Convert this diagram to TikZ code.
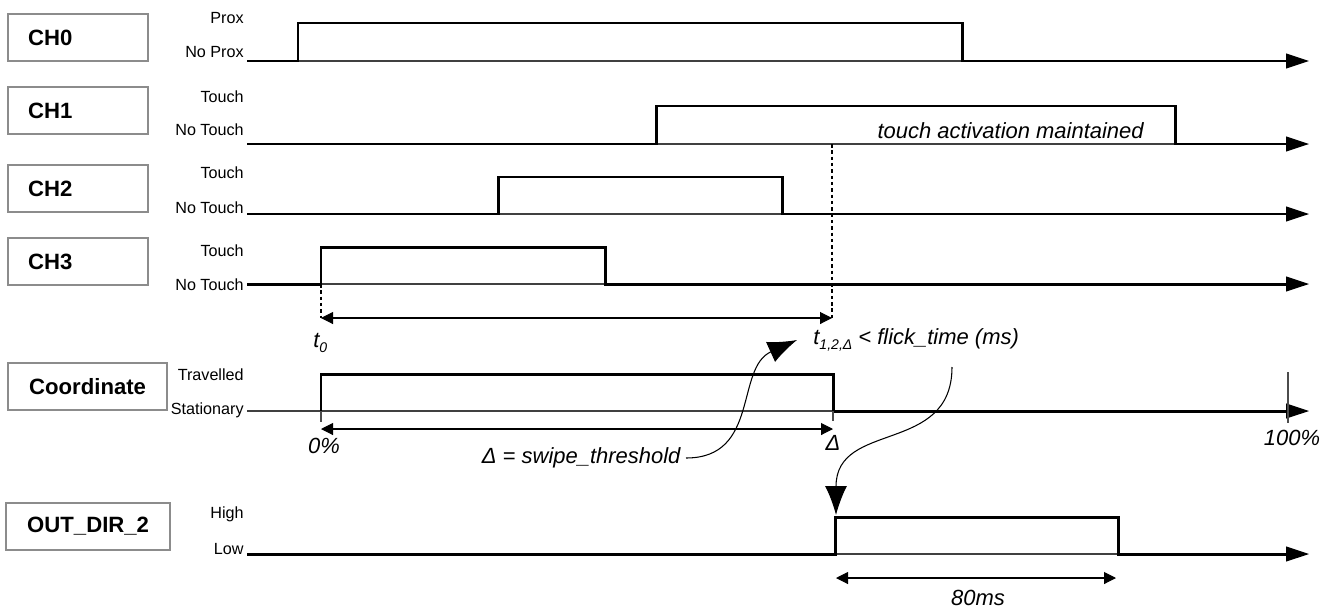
\documentclass[tikz,border=0pt]{standalone}
\usepackage{fontspec}
\setmainfont{Liberation Sans}
\usetikzlibrary{arrows.meta}

\begin{document}
\begin{tikzpicture}[
        x=0.02cm,
        y=-0.02cm,
        sig-axis/.style={
            line width=0.6pt,
            black!75,
            -{Triangle[length=0.46cm, width=0.3cm, color=black]},
        },
        sig-level/.style={
            line width=1.7pt,
            line join=miter,
        },
        sig-mark/.style={
            line width=1.3pt,
            dash pattern=on 2pt off 1.6pt,
        },
        sig-tick/.style={
            line width=0.6pt,
            black!70,
        },
        span/.style={
            line width=0.6pt,
            {Triangle[length=0.24cm, width=0.24cm]}-{Triangle[length=0.24cm, width=0.24cm]},
        },
        pointer/.style={
            line width=0.6pt,
            -{Latex[length=0.58cm, width=0.44cm]},
        },
        chan-box/.style={
            draw=black!45,
            line width=1.3pt,
            fill=white,
            minimum height=0.94cm,
            inner ysep=0pt,
            font=\fontsize{12.6}{14}\selectfont\bfseries,
        },
        level-text/.style={
            font=\fontsize{9.2}{10}\selectfont,
            anchor=east,
            inner sep=0pt,
        },
        note-text/.style={
            font=\fontsize{12.5}{14}\selectfont\itshape,
            inner sep=0pt,
        },
    ]

    \useasboundingbox (0,0) rectangle (1335,609);

    % Touch channels.
    \foreach \ch/\mid/\tyhi/\tylo/\hi/\lo/\up/\down/\hitext/\lotext in {
            0/37.5/18/52/23/61/298/962/Prox/No Prox,
            1/110.5/97/130/106/144/656/1175/Touch/No Touch,
            2/188.5/173/208/177/214/498/782/Touch/No Touch,
            3/261.5/251/285/247/284/321/605/Touch/No Touch}
    {
        \node[chan-box, anchor=west, text width=2cm, inner xsep=0.4cm, align=left]
            (box\ch) at (7,\mid) {CH\ch};
        \node[level-text] (hi\ch) at (244,\tyhi) {\hitext};
        \node[level-text] (lo\ch) at (244,\tylo) {\lotext};
        \draw[sig-axis] (247,\lo) -- (1309,\lo);
        \draw[sig-level] (247,\lo) -- (\up,\lo) -- (\up,\hi)
            -- (\down,\hi) -- (\down,\lo) -- (1290,\lo);
    }

    % Flick window.
    \coordinate (t0-top) at (321,284);
    \coordinate (t1-top) at (832,144);
    \coordinate (t0) at (321,318);
    \coordinate (t1) at (832,318);
    \draw[sig-mark] (t0-top) -- (t0);
    \draw[sig-mark] (t1-top) -- (t1);
    \draw[span] (t0) -- (t1);
    \node[note-text, anchor=west] (t0-text) at (313,343)
        {t\raisebox{-0.5ex}{\fontsize{8}{8}\selectfont 0}};
    \node[note-text, anchor=west] (flick) at (813,340)
        {t\raisebox{-0.5ex}{\fontsize{8}{8}\selectfont 1,2,Δ} < flick\_time (ms)};
    \node[note-text, anchor=east] (hold) at (1144,131) {touch activation maintained};

    % Coordinate.
    \node[chan-box, minimum width=3.18cm, anchor=west] (boxco) at (7,386.5) {Coordinate};
    \node[level-text] (hico) at (244,375) {Travelled};
    \node[level-text] (loco) at (244,410) {Stationary};
    \draw[sig-axis] (247,411) -- (1309,411);
    \draw[sig-level] (321,411) -- (321,374) -- (833,374) -- (833,411) -- (1290,411);
    \draw[sig-tick] (321,411) -- (321,422);
    \draw[sig-tick] (833,411) -- (833,421);
    \draw[sig-tick] (1288,372) -- (1288,423);
    \coordinate (p0) at (321,429);
    \coordinate (p1) at (833,429);
    \draw[span] (p0) -- (p1);
    \node[note-text] (zero) at (324,446) {0\%};
    \node[note-text] (delta) at (833,443) {Δ};
    \node[note-text] (full) at (1292,438) {100\%};
    \node[note-text, anchor=east, inner xsep=3pt] (swipe) at (686,458) {Δ = swipe\_threshold};
    \coordinate (swipe-tip) at (797,340);
    \draw[pointer] (swipe.east) .. controls (760,458) and (735,368) .. (swipe-tip);

    % Output.
    \node[chan-box, minimum width=3.28cm, anchor=west] (boxout) at (5,526.5) {OUT\_DIR\_2};
    \node[level-text] (hiout) at (244,514) {High};
    \node[level-text] (loout) at (244,549) {Low};
    \draw[sig-axis] (247,554) -- (1309,554);
    \draw[sig-level] (247,554) -- (835,554) -- (835,517) -- (1118,517) -- (1118,554) -- (1290,554);
    \coordinate (flick-foot) at (952,367);
    \coordinate (out-rise) at (836,515);
    \draw[pointer] (flick-foot) .. controls (952,455) and (836,420) .. (out-rise);
    \coordinate (q0) at (836,578);
    \coordinate (q1) at (1116,578);
    \draw[span] (q0) -- (q1);
    \node[note-text] (pulse) at (978,598) {80ms};
\end{tikzpicture}
\end{document}
